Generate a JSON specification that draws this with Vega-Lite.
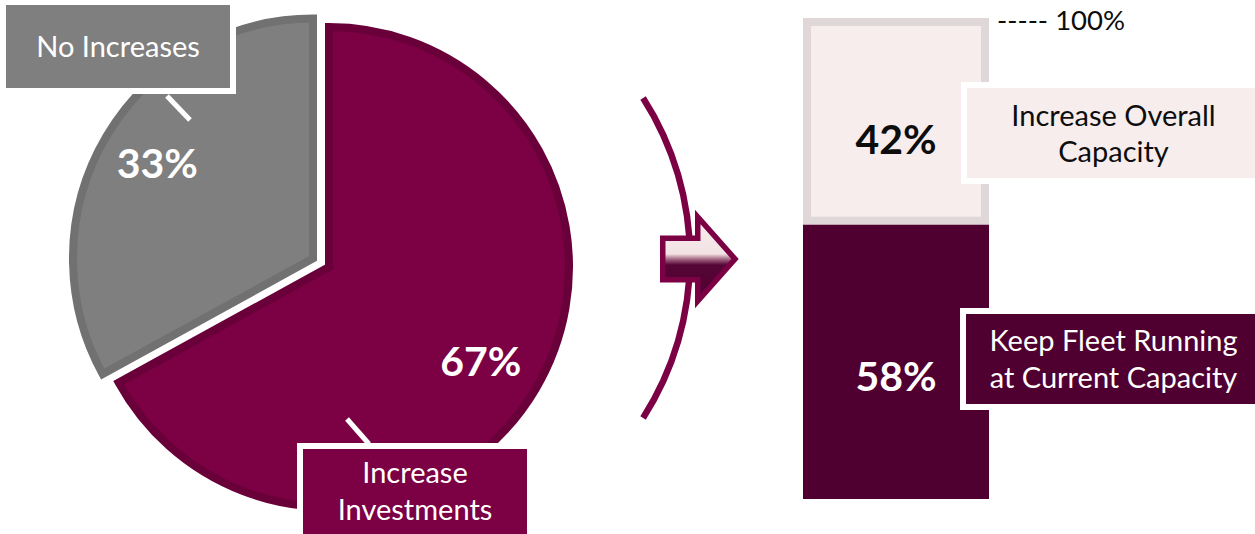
{
  "$schema": "https://vega.github.io/schema/vega-lite/v6.json",
  "padding": 0,
  "bounds": "flush",
  "spacing": 0,
  "background": "#ffffff",
  "config": {"view": {"stroke": null}, "font": "Lato"},
  "resolve": {"scale": {"color": "independent", "theta": "independent", "x": "independent", "y": "independent", "stroke": "independent"}},
  "hconcat": [
    {
      "width": 658,
      "height": 532,
      "data": {"values": [
        {"answer": "Increase Investments", "share": 0.67},
        {"answer": "No Increases", "share": 0.33}
      ]},
      "transform": [
        {"stack": "share", "groupby": [], "sort": [{"field": "share", "order": "descending"}], "as": ["t0", "t1"]}
      ],
      "layer": [
        {
          "transform": [{"filter": "datum.answer === 'Increase Investments'"}],
          "mark": {"type": "arc", "radius": 240, "stroke": "#690039", "strokeWidth": 8, "strokeJoin": "miter"},
          "encoding": {
            "theta": {"field": "t0", "type": "quantitative", "stack": null, "scale": {"domain": [0, 1]}},
            "theta2": {"field": "t1"},
            "color": {"field": "answer", "type": "nominal", "scale": {"domain": ["Increase Investments", "No Increases"], "range": ["#7b0044", "#7f7f7f"]}, "legend": null}
          }
        },
        {
          "transform": [{"filter": "datum.answer === 'No Increases'"}],
          "mark": {"type": "arc", "radius": 240, "stroke": "#717171", "strokeWidth": 8, "strokeJoin": "miter", "xOffset": -16, "yOffset": -8.5},
          "encoding": {
            "theta": {"field": "t0", "type": "quantitative", "stack": null},
            "theta2": {"field": "t1"},
            "color": {"field": "answer", "type": "nominal", "legend": null}
          }
        },
        {
          "transform": [{"filter": "datum.answer === 'Increase Investments'"}, {"fold": ["t0", "t1"], "as": ["edge", "pos"]}],
          "mark": {"type": "text", "radius": 181, "fontSize": 41, "fontWeight": "bold", "color": "#ffffff", "dx": -4, "dy": 5},
          "encoding": {
            "theta": {"aggregate": "mean", "field": "pos", "type": "quantitative"},
            "text": {"field": "share", "type": "quantitative", "format": ".0%"}
          }
        },
        {
          "transform": [{"filter": "datum.answer === 'No Increases'"}, {"fold": ["t0", "t1"], "as": ["edge", "pos"]}],
          "mark": {"type": "text", "radius": 181, "fontSize": 41, "fontWeight": "bold", "color": "#ffffff", "dx": -16, "dy": -9},
          "encoding": {
            "theta": {"aggregate": "mean", "field": "pos", "type": "quantitative"},
            "text": {"field": "share", "type": "quantitative", "format": ".0%"}
          }
        },
        {
          "transform": [{"filter": "datum.answer === 'No Increases'"}],
          "mark": {"type": "point", "shape": "M-1,-0.3941H1V0.3941H-1Z", "size": 55696, "filled": true, "opacity": 1, "color": "#ffffff", "xOffset": -211, "yOffset": -219.5},
          "encoding": {}
        },
        {
          "transform": [{"filter": "datum.answer === 'No Increases'"}],
          "mark": {"type": "point", "shape": "M-1,-0.3705H1V0.3705H-1Z", "size": 50176, "filled": true, "opacity": 1, "xOffset": -211, "yOffset": -220.5},
          "encoding": {"color": {"field": "answer", "type": "nominal", "legend": null}}
        },
        {
          "transform": [{"filter": "datum.answer === 'No Increases'"}],
          "mark": {"type": "text", "fontSize": 29, "color": "#ffffff", "dx": -211, "dy": -219},
          "encoding": {"text": {"field": "answer", "type": "nominal"}}
        },
        {
          "transform": [{"filter": "datum.answer === 'No Increases'"}],
          "mark": {"type": "point", "shape": "M-0.958,-1L0.958,1", "size": 576, "filled": false, "opacity": 1, "stroke": "#ffffff", "strokeWidth": 5, "xOffset": -150.5, "yOffset": -159},
          "encoding": {}
        },
        {
          "transform": [{"filter": "datum.answer === 'Increase Investments'"}],
          "mark": {"type": "point", "shape": "M-1,-0.3898H1V0.3898H-1Z", "size": 55696, "filled": true, "opacity": 1, "color": "#ffffff", "xOffset": 86, "yOffset": 222},
          "encoding": {}
        },
        {
          "transform": [{"filter": "datum.answer === 'Increase Investments'"}],
          "mark": {"type": "point", "shape": "M-1,-0.3839H1V0.3839H-1Z", "size": 50176, "filled": true, "opacity": 1, "xOffset": 86, "yOffset": 225},
          "encoding": {"color": {"field": "answer", "type": "nominal", "legend": null}}
        },
        {
          "transform": [{"filter": "datum.answer === 'Increase Investments'"}],
          "mark": {"type": "text", "fontSize": 29, "color": "#ffffff", "lineBreak": " ", "lineHeight": 37, "dx": 86, "dy": 207},
          "encoding": {"text": {"field": "answer", "type": "nominal"}}
        },
        {
          "transform": [{"filter": "datum.answer === 'Increase Investments'"}],
          "mark": {"type": "point", "shape": "M-0.88,-1L0.88,1", "size": 625, "filled": false, "opacity": 1, "stroke": "#ffffff", "strokeWidth": 5, "xOffset": 29, "yOffset": 164.5},
          "encoding": {}
        },
        {
          "transform": [{"filter": "datum.answer === 'Increase Investments'"}],
          "mark": {"type": "arc", "theta": 1.0, "theta2": 2.1415, "radius": 299.25, "radius2": 292.75, "color": "#7b0044", "xOffset": 65, "yOffset": -9},
          "encoding": {}
        },
        {
          "transform": [{"filter": "datum.answer === 'Increase Investments'"}],
          "mark": {
            "type": "point",
            "shape": "M-0.817,-0.461L-0.039,-0.461L-0.039,-0.933L0.789,0L-0.039,0.933L-0.039,0.461L-0.817,0.461Z",
            "size": 8100,
            "filled": true,
            "opacity": 1,
            "fill": {"gradient": "linear", "x1": 0, "y1": 0, "x2": 0, "y2": 1, "stops": [
              {"offset": 0, "color": "#f8eeee"},
              {"offset": 0.44, "color": "#f2e2e4"},
              {"offset": 0.5, "color": "#a86a86"},
              {"offset": 0.57, "color": "#550636"},
              {"offset": 1, "color": "#4f0030"}
            ]},
            "stroke": "#7b0044",
            "strokeWidth": 5.5,
            "strokeJoin": "miter",
            "xOffset": 370.5,
            "yOffset": -8
          },
          "encoding": {}
        }
      ]
    },
    {
      "width": 597,
      "height": 534,
      "data": {"values": [
        {"group": "Investment priority", "plan": "Keep Fleet Running\nat Current Capacity", "share": 0.58},
        {"group": "Investment priority", "plan": "Increase Overall\nCapacity", "share": 0.42}
      ]},
      "transform": [
        {"stack": "share", "groupby": ["group"], "sort": [{"field": "share", "order": "descending"}], "as": ["lo", "hi"]}
      ],
      "encoding": {
        "x": {"field": "group", "type": "nominal", "axis": null, "scale": {"paddingInner": 0, "paddingOuter": 1, "align": 0.348}}
      },
      "layer": [
        {
          "mark": {"type": "bar", "strokeWidth": 8, "width": 178},
          "encoding": {
            "y": {"field": "lo", "type": "quantitative", "axis": null, "stack": null, "scale": {"domain": [-0.0846, 1.0444], "nice": false, "zero": false}},
            "y2": {"field": "hi"},
            "color": {"field": "plan", "type": "nominal", "scale": {"domain": ["Increase Overall\nCapacity", "Keep Fleet Running\nat Current Capacity"], "range": ["#f7eded", "#4f0030"]}, "legend": null},
            "stroke": {"field": "plan", "type": "nominal", "scale": {"domain": ["Increase Overall\nCapacity", "Keep Fleet Running\nat Current Capacity"], "range": ["#e0d8d8", "#4f0030"]}, "legend": null}
          }
        },
        {
          "transform": [{"fold": ["lo", "hi"], "as": ["edge", "pos"]}],
          "mark": {"type": "text", "fontSize": 41, "fontWeight": "bold", "dy": 21},
          "encoding": {
            "y": {"aggregate": "mean", "field": "pos", "type": "quantitative", "axis": null},
            "text": {"field": "share", "type": "quantitative", "format": ".0%"},
            "detail": {"field": "plan", "type": "nominal"},
            "color": {"condition": {"test": "datum.share < 0.5", "value": "#0d0d0d"}, "value": "#ffffff"}
          }
        },
        {
          "transform": [{"fold": ["lo", "hi"], "as": ["edge", "pos"]}, {"filter": "datum.share < 0.5"}],
          "mark": {"type": "point", "shape": "M-1,-0.3469H1V0.3469H-1Z", "size": 86436, "filled": true, "opacity": 1, "color": "#ffffff", "xOffset": 212, "yOffset": 11.7},
          "encoding": {
            "y": {"aggregate": "mean", "field": "pos", "type": "quantitative", "axis": null}
          }
        },
        {
          "transform": [{"fold": ["lo", "hi"], "as": ["edge", "pos"]}, {"filter": "datum.share < 0.5"}],
          "mark": {"type": "point", "shape": "M-1,-0.3125H1V0.3125H-1Z", "size": 82944, "filled": true, "opacity": 1, "xOffset": 215, "yOffset": 11.7},
          "encoding": {
            "y": {"aggregate": "mean", "field": "pos", "type": "quantitative", "axis": null},
            "color": {"field": "plan", "type": "nominal", "legend": null}
          }
        },
        {
          "transform": [{"fold": ["lo", "hi"], "as": ["edge", "pos"]}, {"filter": "datum.share < 0.5"}],
          "mark": {"type": "text", "fontSize": 29, "lineBreak": "\n", "lineHeight": 36, "color": "#0d0d0d", "dx": 217.5, "dy": -4.8},
          "encoding": {
            "y": {"aggregate": "mean", "field": "pos", "type": "quantitative", "axis": null},
            "text": {"field": "plan", "type": "nominal"}
          }
        },
        {
          "transform": [{"fold": ["lo", "hi"], "as": ["edge", "pos"]}, {"filter": "datum.share >= 0.5"}],
          "mark": {"type": "point", "shape": "M-1,-0.3458H1V0.3458H-1Z", "size": 87025, "filled": true, "opacity": 1, "color": "#ffffff", "xOffset": 211.5, "yOffset": 1.2},
          "encoding": {
            "y": {"aggregate": "mean", "field": "pos", "type": "quantitative", "axis": null}
          }
        },
        {
          "transform": [{"fold": ["lo", "hi"], "as": ["edge", "pos"]}, {"filter": "datum.share >= 0.5"}],
          "mark": {"type": "point", "shape": "M-1,-0.3114H1V0.3114H-1Z", "size": 83521, "filled": true, "opacity": 1, "xOffset": 214.5, "yOffset": 1.2},
          "encoding": {
            "y": {"aggregate": "mean", "field": "pos", "type": "quantitative", "axis": null},
            "color": {"field": "plan", "type": "nominal", "legend": null}
          }
        },
        {
          "transform": [{"fold": ["lo", "hi"], "as": ["edge", "pos"]}, {"filter": "datum.share >= 0.5"}],
          "mark": {"type": "text", "fontSize": 29, "lineBreak": "\n", "lineHeight": 36.5, "color": "#ffffff", "dx": 217.5, "dy": -15.8},
          "encoding": {
            "y": {"aggregate": "mean", "field": "pos", "type": "quantitative", "axis": null},
            "text": {"field": "plan", "type": "nominal"}
          }
        },
        {
          "mark": {"type": "text", "text": "----- 100%", "fontSize": 27.5, "align": "left", "color": "#0d0d0d", "dx": 101, "dy": 0},
          "encoding": {
            "y": {"aggregate": "max", "field": "hi", "type": "quantitative", "axis": null}
          }
        }
      ]
    }
  ]
}
